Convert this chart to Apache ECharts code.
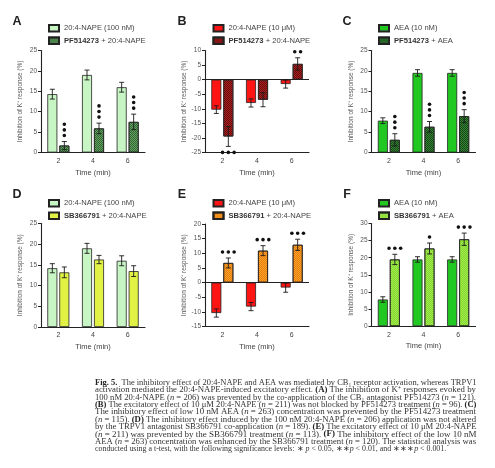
<!DOCTYPE html>
<html>
<head>
<meta charset="utf-8">
<script src="https://cdn.jsdelivr.net/npm/echarts@6/dist/echarts.min.js"></script>
<style>
html,body{margin:0;padding:0;background:#fff;}
#chart{width:495px;height:468px;}
</style>
</head>
<body>
<div id="chart"></div>
<script>
// ---------- data ----------
const categories = ['2', '4', '6'];
const yTitle = 'Inhibition of K\u207A response (%)';
const xTitle = 'Time (min)';

// A
const aNape100 = [14.3, 19.0, 16.0];
const aNape100Err = [1.2, 1.2, 1.2];
const aPfNape = [1.7, 5.9, 7.5];
const aPfNapeErr = [1.0, 1.3, 1.9];
const aSig = [3, 3, 3];
// B
const bNape10 = [-10.3, -8.0, -1.5];
const bNape10Err = [1.3, 1.4, 1.4];
const bPfNape = [-19.5, -6.9, 5.4];
const bPfNapeErr = [3.4, 2.4, 2.1];
const bSig = [3, 0, 2];
// C
const cAea = [7.8, 19.5, 19.5];
const cAeaErr = [0.7, 0.8, 0.8];
const cPfAea = [3.1, 6.3, 8.9];
const cPfAeaErr = [1.5, 1.3, 1.6];
const cSig = [3, 3, 3];
// D
const dNape100 = [14.2, 19.0, 16.0];
const dNape100Err = [1.1, 1.2, 1.2];
const dSbNape = [13.2, 16.3, 13.5];
const dSbNapeErr = [1.3, 1.0, 1.3];
const dSig = [0, 0, 0];
// E
const eNape10 = [-10.4, -8.2, -1.7];
const eNape10Err = [1.4, 1.4, 1.6];
const eSbNape = [6.7, 10.9, 12.9];
const eSbNapeErr = [1.7, 1.7, 1.9];
const eSig = [3, 3, 3];
// F
const fAea = [7.8, 19.5, 19.5];
const fAeaErr = [0.8, 0.8, 0.8];
const fSbAea = [19.5, 22.7, 25.4];
const fSbAeaErr = [1.5, 1.6, 1.8];
const fSig = [3, 1, 3];

const captionLines = [
  '{b|Fig. 5.}  The inhibitory effect of 20:4-NAPE and AEA was mediated by CB\u2081 receptor activation, whereas TRPV1',
  'activation mediated the 20:4-NAPE-induced excitatory effect. {b|(A)} The inhibition of K\u207A responses evoked by',
  '100 nM 20:4-NAPE ({i|n} = 206) was prevented by the co-application of the CB\u2081 antagonist PF514273 ({i|n} = 121).',
  '{b|(B)} The excitatory effect of 10 \u03BCM 20:4-NAPE ({i|n} = 211) was not blocked by PF514273 treatment ({i|n} = 96). {b|(C)}',
  'The inhibitory effect of low 10 nM AEA ({i|n} = 263) concentration was prevented by the PF514273 treatment',
  '({i|n} = 115). {b|(D)} The inhibitory effect induced by the 100 nM 20:4-NAPE ({i|n} = 206) application was not altered',
  'by the TRPV1 antagonist SB366791 co-application ({i|n} = 189). {b|(E)} The excitatory effect of 10 \u03BCM 20:4-NAPE',
  '({i|n} = 211) was prevented by the SB366791 treatment ({i|n} = 113). {b|(F)} The inhibitory effect of the low 10 nM',
  'AEA ({i|n} = 263) concentration was enhanced by the SB366791 treatment ({i|n} = 120). The statistical analysis was',
  'conducted using a t-test, with the following significance levels: \u2217 {i|p} < 0.05, \u2217\u2217{i|p} < 0.01, and \u2217\u2217\u2217{i|p} < 0.001.'
];

// ---------- styles ----------
function checker(col) {
  return { symbol: 'rect', symbolSize: 1, dashArrayX: [[1, 1], [0, 1, 1, 0]], dashArrayY: [1, 0], color: col };
}
const FONT = 'Liberation Sans';
const panels = [
  { letter: 'A', left: 41, top: 50.5, height: 102, yMin: 0, yMax: 25, vert: true, zero: false,
    s1: { name: '20:4-NAPE (100 nM)', data: aNape100, err: aNape100Err, color: '#c8f5c4' },
    s2: { name: 'PF514273 + 20:4-NAPE', data: aPfNape, err: aPfNapeErr, sig: aSig, color: '#2e6a2e', decal: checker('rgba(150,200,150,0.55)') },
    legend: [48, 24], letterPos: [17, 22] },
  { letter: 'B', left: 205, top: 50.5, height: 102, yMin: -25, yMax: 10, vert: false, zero: true,
    s1: { name: '20:4-NAPE (10 \u03BCM)', data: bNape10, err: bNape10Err, color: '#ff1414' },
    s2: { name: 'PF514273 + 20:4-NAPE', data: bPfNape, err: bPfNapeErr, sig: bSig, color: '#6e0808', decal: checker('rgba(210,60,60,0.55)') },
    legend: [212.5, 24], letterPos: [182, 22] },
  { letter: 'C', left: 371.5, top: 50.5, height: 102, yMin: 0, yMax: 25, vert: true, zero: false,
    s1: { name: 'AEA (10 nM)', data: cAea, err: cAeaErr, color: '#22c822' },
    s2: { name: 'PF514273 + AEA', data: cPfAea, err: cPfAeaErr, sig: cSig, color: '#124d12', decal: checker('rgba(90,170,90,0.55)') },
    legend: [378, 24], letterPos: [347, 22] },
  { letter: 'D', left: 41, top: 223.5, height: 103.5, yMin: 0, yMax: 25, vert: false, zero: false,
    s1: { name: '20:4-NAPE (100 nM)', data: dNape100, err: dNape100Err, color: '#c8f5c4' },
    s2: { name: 'SB366791 + 20:4-NAPE', data: dSbNape, err: dSbNapeErr, sig: dSig, color: '#e2f244' },
    legend: [48, 199], letterPos: [17, 195] },
  { letter: 'E', left: 205, top: 224, height: 102.5, yMin: -15, yMax: 20, vert: false, zero: true,
    s1: { name: '20:4-NAPE (10 \u03BCM)', data: eNape10, err: eNape10Err, color: '#ff1414' },
    s2: { name: 'SB366791 + 20:4-NAPE', data: eSbNape, err: eSbNapeErr, sig: eSig, color: '#ffa126', decal: checker('rgba(210,100,0,0.55)') },
    legend: [212.5, 199], letterPos: [182, 195] },
  { letter: 'F', left: 371.5, top: 223.5, height: 102.7, yMin: 0, yMax: 30, vert: false, zero: false,
    s1: { name: 'AEA (10 nM)', data: fAea, err: fAeaErr, color: '#22c822' },
    s2: { name: 'SB366791 + AEA', data: fSbAea, err: fSbAeaErr, sig: fSig, color: '#a2ec4c', decal: checker('rgba(110,200,30,0.6)') },
    legend: [378, 199], letterPos: [347, 195] }
];

const BAR_W = 10, BAR_OFF = 6;

function errRender(offset, vertical) {
  return function (params, api) {
    const ci = api.value(0), v = api.value(1), e = api.value(2), n = api.value(3);
    const x = api.coord([ci, v])[0] + offset;
    const yHi = api.coord([ci, v + e])[1];
    const yLo = api.coord([ci, v - e])[1];
    const st = { stroke: '#1a1a1a', lineWidth: 0.9 };
    const cap = 2.5;
    const children = [
      { type: 'line', shape: { x1: x, y1: yHi, x2: x, y2: yLo }, style: st },
      { type: 'line', shape: { x1: x - cap, y1: yHi, x2: x + cap, y2: yHi }, style: st },
      { type: 'line', shape: { x1: x - cap, y1: yLo, x2: x + cap, y2: yLo }, style: st }
    ];
    const dir = v >= 0 ? -1 : 1;
    const yEnd = v >= 0 ? yHi : yLo;
    for (let k = 0; k < n; k++) {
      let cx, cy;
      if (vertical) { cx = x; cy = yEnd + dir * (6 + k * 5.6); }
      else { cx = x + (k - (n - 1) / 2) * 5.8; cy = yEnd + dir * 6; }
      children.push({ type: 'circle', shape: { cx: cx, cy: cy, r: 1.8 }, style: { fill: '#111' } });
    }
    return { type: 'group', children: children };
  };
}

function legendFmt(name) {
  const s = name.split('#')[0];
  return s.replace(/^(PF514273|SB366791)/, '{b|$1}');
}

const grid = [], xAxis = [], yAxis = [], series = [], legend = [], graphic = [];
panels.forEach(function (p, i) {
  grid.push({ left: p.left, top: p.top, width: 104, height: p.height, containLabel: false });
  xAxis.push({
    type: 'category', gridIndex: i, data: categories,
    name: xTitle, nameLocation: 'middle', nameGap: 16,
    nameTextStyle: { fontSize: 7.5, color: '#444', fontFamily: FONT },
    axisLine: { onZero: false, lineStyle: { color: '#222', width: 1.1 } },
    axisTick: { alignWithLabel: true, length: 3, lineStyle: { color: '#222' } },
    axisLabel: { fontSize: 7, color: '#444', margin: 5, fontFamily: FONT },
    splitLine: { show: false }
  });
  yAxis.push({
    type: 'value', gridIndex: i, min: p.yMin, max: p.yMax, interval: 5,
    name: yTitle, nameLocation: 'middle', nameGap: 17,
    nameTextStyle: { fontSize: 6.5, color: '#555', fontFamily: FONT },
    axisLine: { show: true, lineStyle: { color: '#222', width: 1.1 } },
    axisTick: { show: true, length: 3, lineStyle: { color: '#222' } },
    axisLabel: { fontSize: 6.5, color: '#555', margin: 4, fontFamily: FONT },
    splitLine: { show: false }
  });
  const n1 = p.s1.name + '#' + p.letter, n2 = p.s2.name + '#' + p.letter;
  const b1 = {
    type: 'bar', name: n1, xAxisIndex: i, yAxisIndex: i, data: p.s1.data,
    barWidth: BAR_W, barGap: '20%',
    itemStyle: { color: p.s1.color, borderColor: '#222', borderWidth: 0.8 },
    silent: true
  };
  if (p.zero) {
    b1.markLine = {
      silent: true, symbol: 'none', label: { show: false },
      lineStyle: { color: '#222', type: 'solid', width: 1.1 },
      data: [{ yAxis: 0 }]
    };
  }
  const st2 = { color: p.s2.color, borderColor: '#222', borderWidth: 0.8 };
  if (p.s2.decal) st2.decal = p.s2.decal;
  const b2 = {
    type: 'bar', name: n2, xAxisIndex: i, yAxisIndex: i, data: p.s2.data,
    barWidth: BAR_W, barGap: '20%', itemStyle: st2, silent: true
  };
  series.push(b1, b2);
  series.push({
    type: 'custom', xAxisIndex: i, yAxisIndex: i, z: 5, silent: true,
    renderItem: errRender(-BAR_OFF, false),
    encode: { x: 0, y: 1 },
    data: p.s1.data.map(function (v, k) { return [k, v, p.s1.err[k], 0]; })
  });
  series.push({
    type: 'custom', xAxisIndex: i, yAxisIndex: i, z: 5, silent: true,
    renderItem: errRender(BAR_OFF, p.vert),
    encode: { x: 0, y: 1 },
    data: p.s2.data.map(function (v, k) { return [k, v, p.s2.err[k], p.s2.sig[k]]; })
  });
  legend.push({
    left: p.legend[0], top: p.legend[1], orient: 'vertical',
    itemWidth: 10, itemHeight: 6.5, itemGap: 4, icon: 'rect',
    selectedMode: false, padding: 0,
    data: [n1, n2], formatter: legendFmt,
    textStyle: { fontSize: 7.6, color: '#444', fontFamily: FONT,
      rich: { b: { fontSize: 7.6, fontWeight: 'bold', color: '#333', fontFamily: FONT } } }
  });
  graphic.push({
    type: 'text', x: p.letterPos[0], y: p.letterPos[1],
    style: { text: p.letter, font: 'bold 12.5px "Liberation Sans"', fill: '#222', align: 'center', verticalAlign: 'middle' }
  });
});

// caption
const measure = document.createElement('canvas').getContext('2d');
const CAP_SIZE = 7.9;
measure.font = CAP_SIZE + 'px "Liberation Serif"';
const capLeft = 95, capRight = 476, capTop = 383, capStep = 7.35;
captionLines.forEach(function (line, k) {
  const plain = line.replace(/\{[a-z]\|([^}]*)\}/g, '$1');
  const w = measure.measureText(plain).width;
  let sx = 1;
  if (k < captionLines.length - 1) sx = Math.max(0.8, Math.min(1.25, (capRight - capLeft) / w));
  graphic.push({
    type: 'text', x: capLeft, y: capTop + k * capStep, scaleX: sx,
    style: {
      text: line, x: 0, y: 0, fontSize: CAP_SIZE, fontFamily: 'Liberation Serif', fill: '#333',
      verticalAlign: 'middle', align: 'left',
      rich: {
        b: { fontSize: CAP_SIZE, fontFamily: 'Liberation Serif', fontWeight: 'bold', fill: '#222' },
        i: { fontSize: CAP_SIZE, fontFamily: 'Liberation Serif', fontStyle: 'italic', fill: '#333' }
      }
    }
  });
});

const chart = echarts.init(document.getElementById('chart'), null, { renderer: 'canvas' });
chart.setOption({
  animation: false,
  backgroundColor: '#fff',
  textStyle: { fontFamily: FONT },
  grid: grid, xAxis: xAxis, yAxis: yAxis, series: series, legend: legend, graphic: graphic
});
</script>
</body>
</html>
